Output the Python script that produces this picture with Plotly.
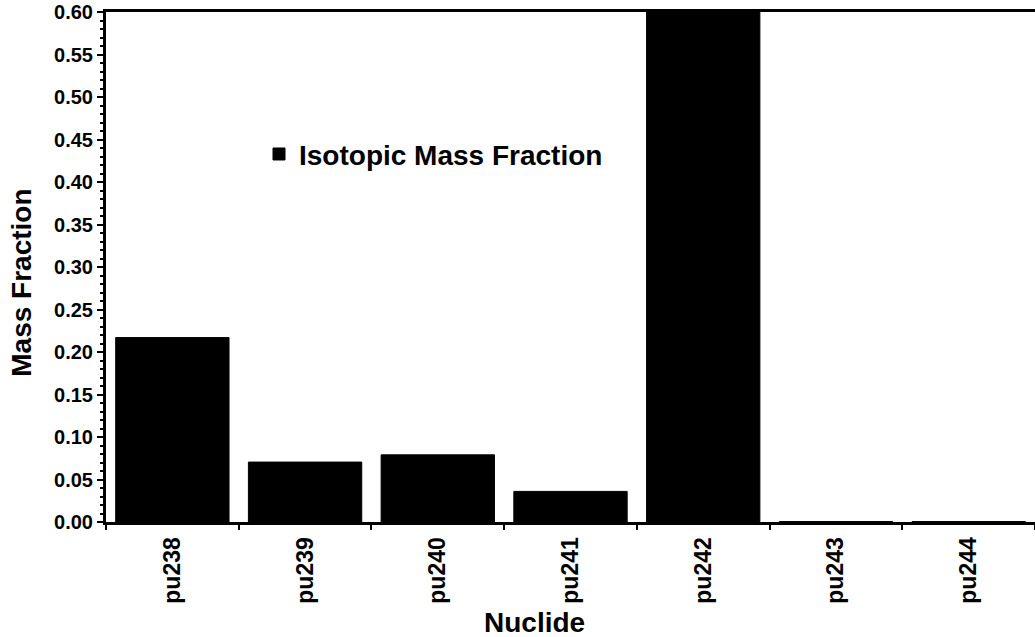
import plotly.graph_objects as go

# ── données ───────────────────────────────────────────────────────────────────
nuclides = ['pu238', 'pu239', 'pu240', 'pu241', 'pu242', 'pu243', 'pu244']
mass_fraction = [0.217, 0.0705, 0.079, 0.036, 0.602, 0.0005, 0.0005]

FONT = dict(family='Liberation Sans, Arial, sans-serif', color='black', weight='bold')

fig = go.Figure()
fig.add_trace(go.Bar(
    x=nuclides, y=mass_fraction,
    name='Isotopic Mass Fraction',
    marker=dict(color='black', line=dict(color='black', width=1)),
    hovertemplate='%{x}<br>%{y:.3f}<extra></extra>',
))

fig.update_layout(
    width=1035, height=637,
    margin=dict(l=106, r=0, t=12, b=115),
    paper_bgcolor='white', plot_bgcolor='white',
    font=FONT,
    bargap=0.146,
    showlegend=True,
    legend=dict(
        x=0.1647, y=0.721, xanchor='left', yanchor='middle',
        font=dict(size=28, **FONT), bgcolor='rgba(0,0,0,0)',
    ),
    annotations=[
        dict(text='Nuclide', x=0.461, y=-0.198, xref='paper', yref='paper',
             showarrow=False, font=dict(size=28, **FONT),
             xanchor='center', yanchor='middle'),
        dict(text='Mass Fraction', x=-0.0905, y=0.469, xref='paper', yref='paper',
             showarrow=False, textangle=-90, font=dict(size=28, **FONT),
             xanchor='center', yanchor='middle'),
    ],
)

fig.update_xaxes(
    range=[-0.5, 6.5],
    showline=True, linecolor='black', linewidth=3, mirror=True,
    ticks='outside', tickson='boundaries', ticklen=5, tickwidth=2,
    tickcolor='black', tickangle=-90, tickfont=dict(size=23, **FONT),
    ticklabelstandoff=3,
    showgrid=False, zeroline=False,
)
fig.update_yaxes(
    range=[0, 0.6], dtick=0.05, tickformat='.2f',
    showline=True, linecolor='black', linewidth=3, mirror=False,
    ticks='outside', ticklen=6, tickwidth=2, tickcolor='black',
    minor=dict(dtick=0.01, ticks='outside', ticklen=3, tickwidth=2,
               tickcolor='black', showgrid=False),
    tickfont=dict(size=20, **FONT), ticklabeloverflow='allow',
    showgrid=False, zeroline=False,
)

# pas de marge de page autour du graphe, pas de barre d'outils
fig.write_html(
    "out.html",
    config={'displayModeBar': False},
    post_script="document.body.style.margin='0';",
)
